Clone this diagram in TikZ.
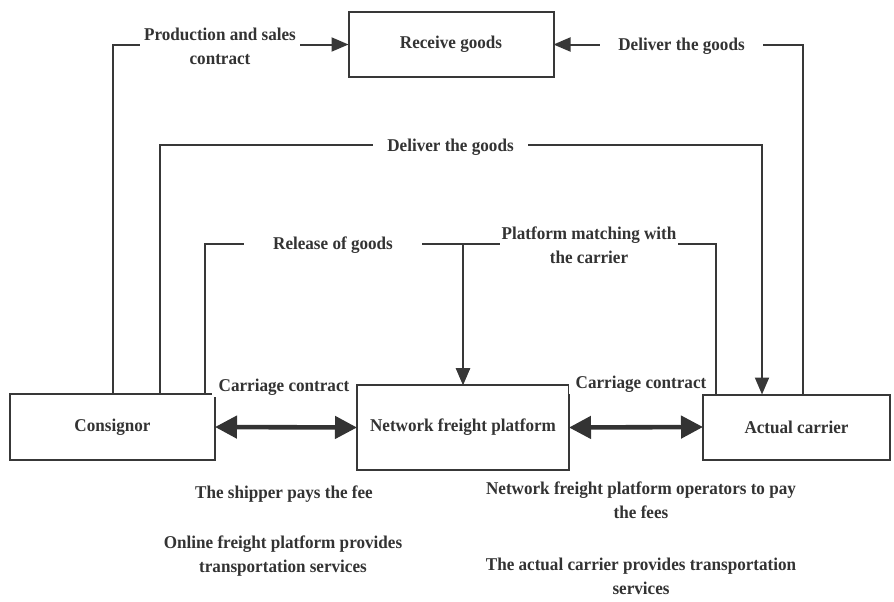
\documentclass[tikz,border=0pt]{standalone}
\usepackage{fontspec}
\setmainfont[FakeStretch=0.95]{Liberation Serif}
\usetikzlibrary{arrows.meta}

\begin{document}
\begin{tikzpicture}[x=0.5pt,y=-0.5pt,
    box/.style={draw=black!78, line width=1pt, inner sep=0pt, outer sep=0pt, font=\bfseries\fontsize{9}{12}\selectfont, text=black!80},
    flow/.style={draw=black!78, line width=1pt, -{Triangle[length=8.5pt,width=7pt]}},
    both/.style={draw=black!80, line width=2.3pt, {Triangle[length=11pt,width=11pt]}-{Triangle[length=11pt,width=11pt]}},
    lbl/.style={fill=white, inner ysep=1pt, align=center, font=\bfseries\fontsize{9}{12}\selectfont, text=black!80}]
  \useasboundingbox (0,0) rectangle (894,601);

  \node[box, minimum width=102.5pt, minimum height=32.5pt] (receive) at (451,44.5) {Receive goods};
  \node[box, minimum width=102.5pt, minimum height=33pt] (consignor) at (112.5,427) {Consignor};
  \node[box, minimum width=106pt, minimum height=42.5pt] (platform) at (463,427.5) {Network freight platform};
  \node[box, minimum width=93.5pt, minimum height=32.5pt] (carrier) at (796.5,427) {Actual carrier};

  \draw[flow] (consignor.north) |- (receive.west);
  \draw[flow] ([xshift=3.25pt]carrier.north) |- (receive.east);
  \draw[flow] ([xshift=23.75pt]consignor.north) -- ++(0,-249) -| ([xshift=-17.25pt]carrier.north);
  \draw[flow] ([xshift=46pt]consignor.north) -- ++(0,-150) -| (platform.north);
  \draw[flow] ([xshift=-40.25pt]carrier.north) -- ++(0,-150.5) -| (platform.north);
  \draw[both] (consignor.east) -- (platform.west);
  \draw[both] (platform.east) -- (carrier.west);

  \node[lbl, inner xsep=2pt] (contract) at (220,46) {Production and sales\\contract};
  \node[lbl, inner xsep=9pt] (deliver top) at (681.5,46) {Deliver the goods};
  \node[lbl, inner xsep=7pt] (deliver mid) at (450.5,147) {Deliver the goods};
  \node[lbl, inner xsep=14.5pt] (release) at (333,245) {Release of goods};
  \node[lbl, inner xsep=1pt] (matching) at (589,245.5) {Platform matching with\\the carrier};
  \node[lbl] (carriage left) at (284,387) {Carriage contract};
  \node[lbl] (carriage right) at (641,384) {Carriage contract};
  \node[lbl] (fee left) at (284,494) {The shipper pays the fee};
  \node[lbl] (service left) at (283,556) {Online freight platform provides\\transportation services};
  \node[lbl] (fee right) at (641,500) {Network freight platform operators to pay\\the fees};
  \node[lbl] (service right) at (641,576) {The actual carrier provides transportation\\services};
\end{tikzpicture}
\end{document}
